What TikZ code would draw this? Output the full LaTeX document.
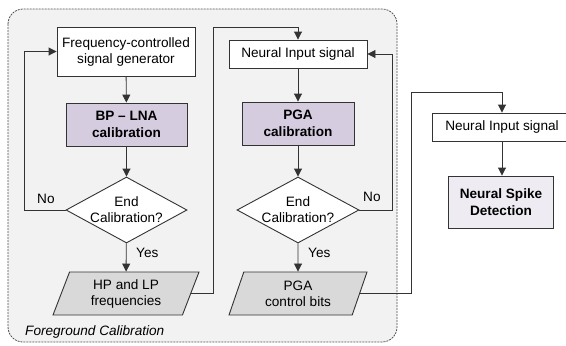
\documentclass[tikz,border=0pt]{standalone}
\usepackage{fontspec}
\setmainfont{Liberation Sans}
\usetikzlibrary{shapes.geometric,arrows.meta,calc}
\definecolor{bgc}{HTML}{F2F2F2}
\definecolor{purp}{HTML}{D5CCE0}
\definecolor{lpurp}{HTML}{EEEBF3}
\definecolor{pgray}{HTML}{D9D9D9}
\definecolor{lc}{HTML}{333333}
\begin{document}
\begin{tikzpicture}[x=1pt,y=-1pt,
  font=\fontsize{13.6}{16}\selectfont,
  box/.style={draw=lc, fill=white, line width=0.9pt, align=center, inner sep=0pt},
  calib/.style={box, fill=purp, font=\fontsize{13.6}{17}\selectfont\bfseries},
  dia/.style={diamond, draw=lc, fill=white, line width=0.9pt, inner sep=0pt},
  para/.style={trapezium, trapezium left angle=60, trapezium right angle=120,
    trapezium stretches body, draw=lc, fill=pgray, line width=0.9pt, align=center, inner sep=0pt},
  conn/.style={draw=lc, line width=0.9pt, -{Triangle[length=8pt,width=8pt]}},
  lbl/.style={inner sep=0pt, anchor=west}
]
\useasboundingbox (0,0) rectangle (566,346);
\draw[draw=lc!85, dash pattern=on 2pt off 1pt, fill=bgc, rounded corners=15pt, line width=0.8pt]
  (8,9) rectangle (397,342);
\node[lbl, font=\fontsize{13.6}{16}\selectfont\itshape] (fg) at (25,332) {Foreground Calibration};

% left column
\node[box, minimum width=138pt, minimum height=49pt] (gen) at (126,51.5) {Frequency-controlled\\signal generator};
\node[calib, minimum width=121pt, minimum height=43pt] (bp) at (126.5,124.5) {BP -- LNA\\calibration};
\node[dia, minimum width=121pt, minimum height=66pt] (d1) at (126.5,210) {};
\node[align=center, inner sep=0pt] (d1t) at (126.5,210) {End\\Calibration?};
\node[para, minimum width=146pt, minimum height=43pt] (p1) at (126,293.5) {HP and LP\\frequencies};

% middle column
\node[box, minimum width=138pt, minimum height=28pt] (n1) at (298,54) {Neural Input signal};
\node[calib, minimum width=112pt, minimum height=43pt] (pga) at (298,123.5) {PGA\\calibration};
\node[dia, minimum width=122pt, minimum height=66pt] (d2) at (298,210) {};
\node[align=center, inner sep=0pt] (d2t) at (298,210) {End\\Calibration?};
\node[para, minimum width=138pt, minimum height=43pt] (p2) at (298,293.5) {PGA\\control bits};

% right column
\node[box, minimum width=140pt, minimum height=28pt] (n2) at (502,127) {Neural Input signal};
\node[box, fill=lpurp, font=\fontsize{13.6}{17}\selectfont\bfseries, minimum width=105pt, minimum height=52pt] (sp) at (501,202) {Neural Spike\\Detection};

% connectors
\draw[conn] (gen) -- (bp);
\draw[conn] (bp) -- (d1);
\draw[conn] (d1) -- (p1);
\node[lbl] (y1) at (136,253) {Yes};
\coordinate (l1) at (24,51.5);
\draw[conn] (d1.west) -| (l1) -- (gen.west);
\node[lbl] (no1) at (37,199) {No};

\coordinate (t1) at (213,27);
\draw[conn] (p1.east) -| (t1) -| (n1.north);

\draw[conn] (n1) -- (pga);
\draw[conn] (pga) -- (d2);
\draw[conn] (d2) -- (p2);
\node[lbl] (y2) at (308,253) {Yes};
\coordinate (l2) at (392,54);
\draw[conn] (d2.east) -| (l2) -- (n1.east);
\node[lbl] (no2) at (363,197) {No};

\coordinate (t2) at (411,92);
\draw[conn] (p2.east) -| (t2) -| (n2.north);
\draw[conn] (n2) -- (sp.north -| n2.south);
\end{tikzpicture}
\end{document}
